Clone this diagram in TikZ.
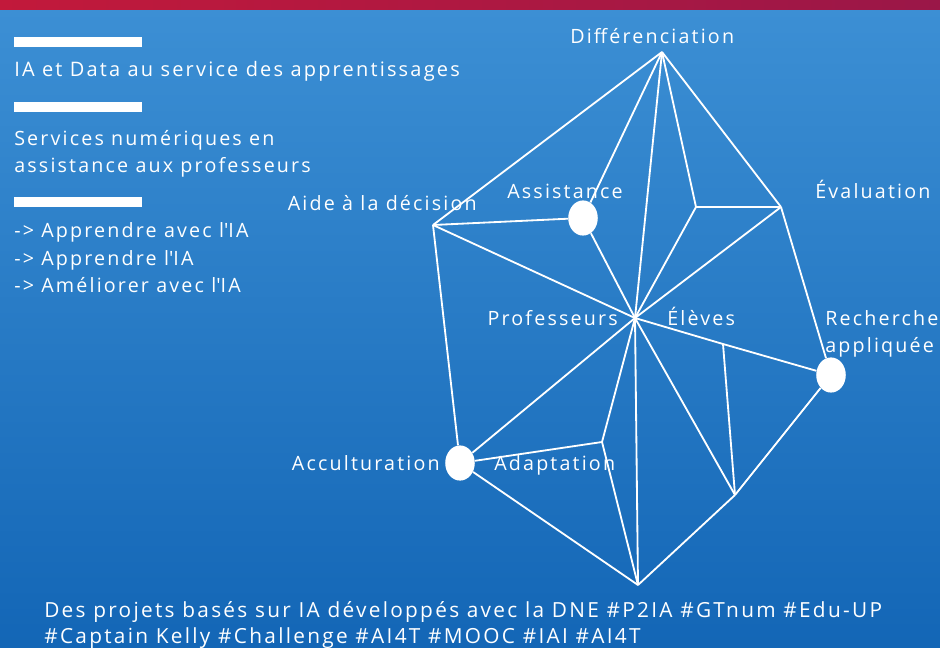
\documentclass[tikz,border=0pt]{standalone}
\usepackage{fontspec}
\usepackage{xcolor}
\usepackage{tikz}
\usetikzlibrary{shapes.geometric}
\newfontfamily\marfont[LetterSpace=11]{Open Sans}
\definecolor{bgtop}{HTML}{3C8FD4}
\definecolor{bgbot}{HTML}{1366B6}
\definecolor{bandleft}{HTML}{C2193B}
\definecolor{bandright}{HTML}{9A1748}

\begin{document}
\begin{tikzpicture}[x=0.025cm,y=-0.025cm]
\tikzstyle{every node}=[font=\marfont\fontsize{14}{16}\selectfont, text=white, inner sep=0pt]
\tikzstyle{web}=[draw=white, line width=1.3pt, line join=round]
\tikzstyle{dot}=[ellipse, fill=white, minimum width=21pt, minimum height=25pt]
\tikzstyle{bar}=[fill=white]
\useasboundingbox (0,0) rectangle (940,647);
% fond
\shade [top color=bgtop, bottom color=bgbot] (0,9) rectangle (940,647);
\shade [left color=bandleft, right color=bandright] (0,0) rectangle (940,9);
% texte de gauche
\fill [bar] (14,37) rectangle (142,47);
\fill [bar] (14,102) rectangle (142,112);
\fill [bar] (14,197) rectangle (142,207);
\node [anchor=base west, font=\marfont\fontsize{14.2}{16}\selectfont] (titre) at (14,76) {IA et Data au service des apprentissages};
\node [anchor=base west] (serv1) at (14,145) {Services numériques en};
\node [anchor=base west] (serv2) at (14,172) {assistance aux professeurs};
\node [anchor=base west] (app1) at (14,237) {-> Apprendre avec l\textquotesingle IA};
\node [anchor=base west] (app2) at (14,265) {-> Apprendre l\textquotesingle IA};
\node [anchor=base west] (app3) at (14,292) {-> Améliorer avec l\textquotesingle IA};
% sommets
\coordinate (dif) at (662,52);
\coordinate (aide) at (433,225);
\coordinate (evalin) at (696,207);
\coordinate (eval) at (781,207);
\coordinate (prof) at (635,318);
\coordinate (adapt) at (602,442);
\coordinate (bas) at (638,585);
\coordinate (rechin) at (723,344);
\coordinate (basdr) at (735,495);
\node [dot] (assist) at (583,218) {};
\node [dot] (accult) at (460,463) {};
\node [dot] (rech) at (831,375) {};
% reseau
\draw [web] (dif) -- (aide);
\draw [web] (dif) -- (assist);
\draw [web] (dif) -- (prof);
\draw [web] (dif) -- (evalin);
\draw [web] (dif) -- (eval);
\draw [web] (evalin) -- (eval);
\draw [web] (evalin) -- (prof);
\draw [web] (eval) -- (prof);
\draw [web] (eval) -- (rech);
\draw [web] (aide) -- (assist);
\draw [web] (aide) -- (prof);
\draw [web] (assist) -- (prof);
\draw [web] (aide) -- (accult);
\draw [web] (prof) -- (rechin) -- (rech);
\draw [web] (rechin) -- (basdr);
\draw [web] (prof) -- (basdr);
\draw [web] (basdr) -- (rech);
\draw [web] (basdr) -- (bas);
\draw [web] (prof) -- (bas);
\draw [web] (prof) -- (adapt);
\draw [web] (adapt) -- (bas);
\draw [web] (adapt) -- (accult);
\draw [web] (prof) -- (accult);
\draw [web] (accult) -- (bas);
% etiquettes
\node [anchor=base west] (tdif) at (570,43) {Différenciation};
\node [anchor=base east] (taide) at (477,210) {Aide à la décision};
\node [anchor=base west] (tassist) at (507,198) {Assistance};
\node [anchor=base west] (teval) at (815,198) {Évaluation};
\node [anchor=base east] (tprof) at (618,325) {Professeurs};
\node [anchor=base west] (televes) at (667,325) {Élèves};
\node [anchor=base west] (trech1) at (825,325) {Recherche};
\node [anchor=base west] (trech2) at (825,352) {appliquée};
\node [anchor=base east] (taccult) at (440,470) {Acculturation};
\node [anchor=base west] (tadapt) at (494,470) {Adaptation};
% bas
\node [anchor=base west, font=\marfont\fontsize{14.8}{16}\selectfont] (bas1) at (44,617) {Des projets basés sur IA développés avec la DNE \#P2IA \#GTnum \#Edu-UP};
\node [anchor=base west, font=\marfont\fontsize{14.8}{16}\selectfont] (bas2) at (44,643) {\#Captain Kelly \#Challenge \#AI4T \#MOOC \#IAI \#AI4T};
\end{tikzpicture}
\end{document}
